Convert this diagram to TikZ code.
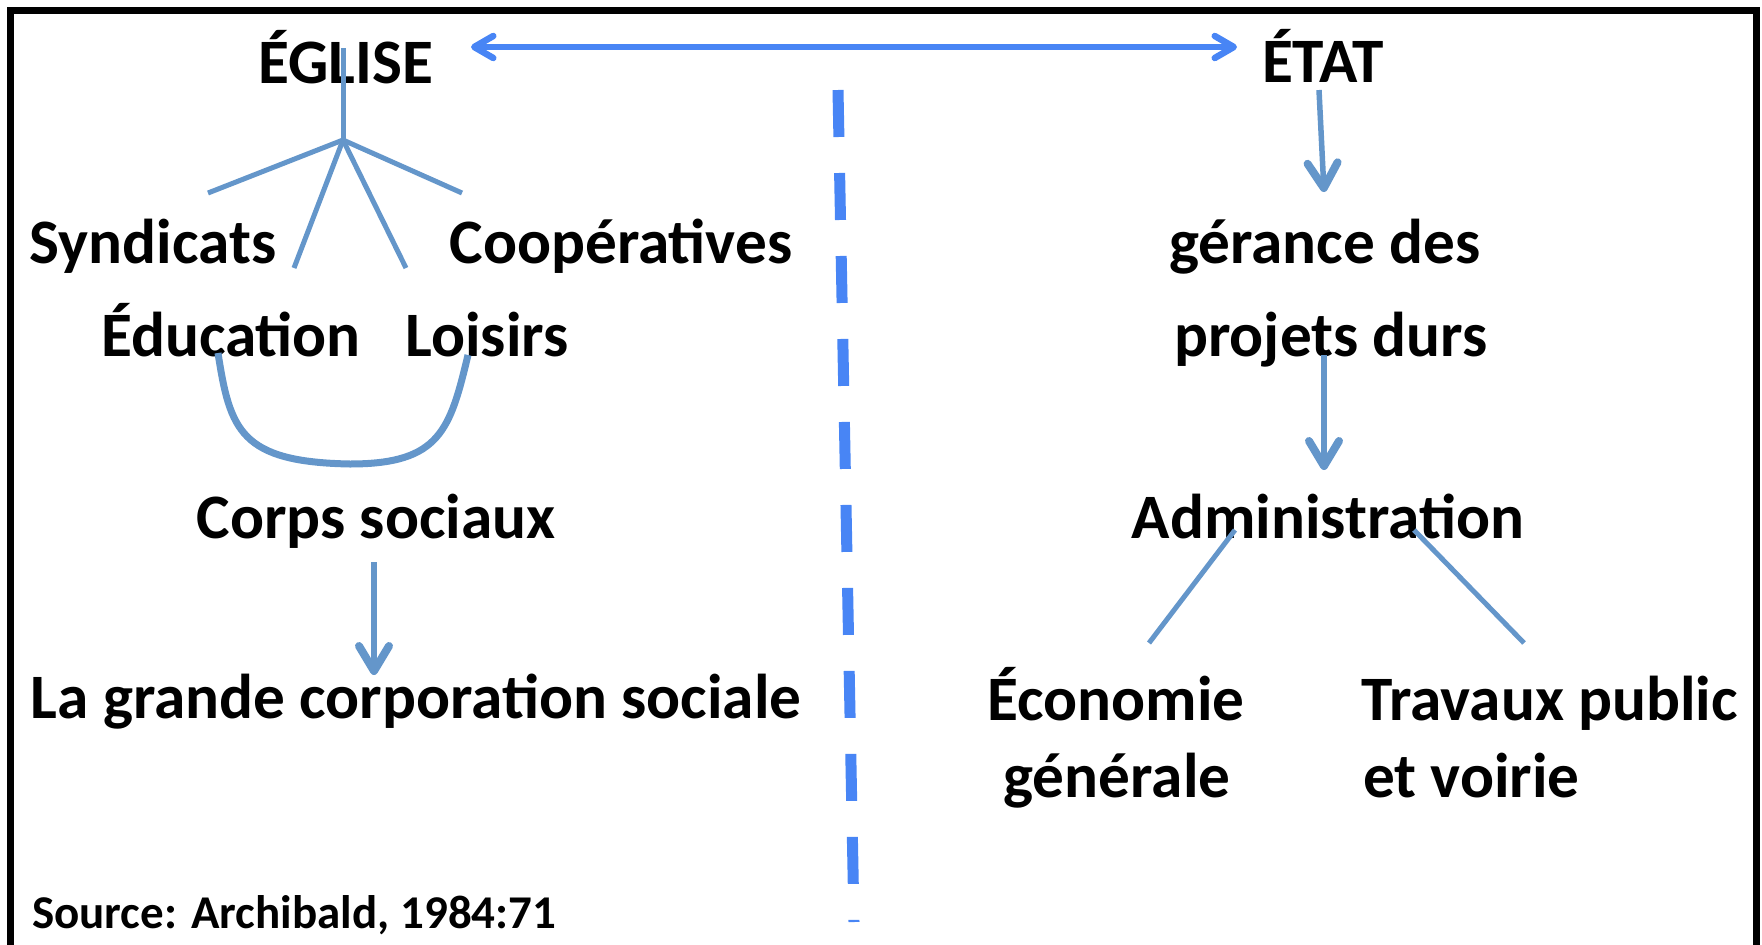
\documentclass[tikz,border=0pt]{standalone}
\usepackage{fontspec}
\setmainfont{Carlito}
\usetikzlibrary{arrows.meta}
\definecolor{brightblue}{RGB}{72,133,245}
\definecolor{steel}{RGB}{100,150,202}
\begin{document}
\begin{tikzpicture}[x=1pt,y=-1pt,
  lbl/.style={inner sep=0pt,anchor=base,font=\fontsize{63.3}{74}\selectfont\bfseries},
  lblw/.style={inner sep=0pt,anchor=base west,font=\fontsize{63.3}{74}\selectfont\bfseries},
  src/.style={inner sep=0pt,anchor=base west,font=\fontsize{47}{55}\selectfont\bfseries},
  treeline/.style={draw=steel,line width=5pt},
  downarrow/.style={draw=steel,line width=5.5pt,-{Straight Barb[line width=8pt,length=25pt,width=30pt,round]}},
  bothway/.style={draw=brightblue,line width=6pt,{Straight Barb[line width=6.5pt,length=19pt,width=22pt,round]}-{Straight Barb[line width=6.5pt,length=19pt,width=22pt,round]}},
  divider/.style={draw=brightblue,line width=11pt,dash pattern=on 47pt off 36pt}
]
\useasboundingbox (0,0) rectangle (1762,945);
\begin{scope}
\clip (0,0) rectangle (1762,945);
\draw[line width=7pt] (10,980) -- (10,10) -- (1756,10) -- (1756,980);
\end{scope}

% left side
\node[lbl] (eglise) at (346,83) {ÉGLISE};
\node[lbl] (synd) at (153,263) {Syndicats};
\node[lbl] (coop) at (621,263) {Coopératives};
\node[lbl] (educ) at (231,356) {Éducation};
\node[lbl] (lois) at (487,356) {Loisirs};
\node[lbl] (corps) at (376,538) {Corps sociaux};
\node[lbl] (grande) at (416,718) {La grande corporation sociale};
\node[src] (source) at (32,928) {Source: Archibald, 1984:71};

% right side
\node[lbl] (etat) at (1323,82) {ÉTAT};
\node[lbl] (gerance) at (1325,263) {gérance des};
\node[lbl] (projets) at (1331,356) {projets durs};
\node[lbl] (admin) at (1328,538) {Administration};
\node[lbl] (econ) at (1116,720) {Économie};
\node[lbl] (gen) at (1117,797) {générale};
\node[lblw] (trav) at (1361,720) {Travaux public};
\node[lblw] (voirie) at (1363,797) {et voirie};

% coordinates
\coordinate (etop) at (343,48);
\coordinate (fork) at (343,140);
\coordinate (bS) at (208,193);
\coordinate (bE) at (294,268);
\coordinate (bL) at (406,268);
\coordinate (bC) at (462,193);
\coordinate (uL) at (218,353);
\coordinate (uR) at (468,355);
\coordinate (cA) at (374,562);
\coordinate (cB) at (374,675);
\coordinate (arL) at (471,47);
\coordinate (arR) at (1237,47);
\coordinate (tA) at (1319,90);
\coordinate (tB) at (1324,192);
\coordinate (pA) at (1324,355);
\coordinate (pB) at (1324,470);
\coordinate (aL) at (1235,530);
\coordinate (eL) at (1149,643);
\coordinate (aR) at (1414,530);
\coordinate (eR) at (1524,643);
\coordinate (dTop) at (838,90);
\coordinate (dBot) at (854,922);

% connectors
\draw[bothway] (arL) -- (arR);
\draw[divider] (dTop) -- (dBot);
\draw[treeline] (etop) -- (fork);
\draw[treeline] (fork) -- (bS);
\draw[treeline] (fork) -- (bE);
\draw[treeline] (fork) -- (bL);
\draw[treeline] (fork) -- (bC);
\draw[draw=steel,line width=7pt] (uL) .. controls (230,430) and (240,462) .. (350,464) .. controls (440,464) and (450,430) .. (uR);
\draw[downarrow] (cA) -- (cB);
\draw[downarrow] (tA) -- (tB);
\draw[downarrow] (pA) -- (pB);
\draw[treeline] (aL) -- (eL);
\draw[treeline] (aR) -- (eR);
\end{tikzpicture}
\end{document}
